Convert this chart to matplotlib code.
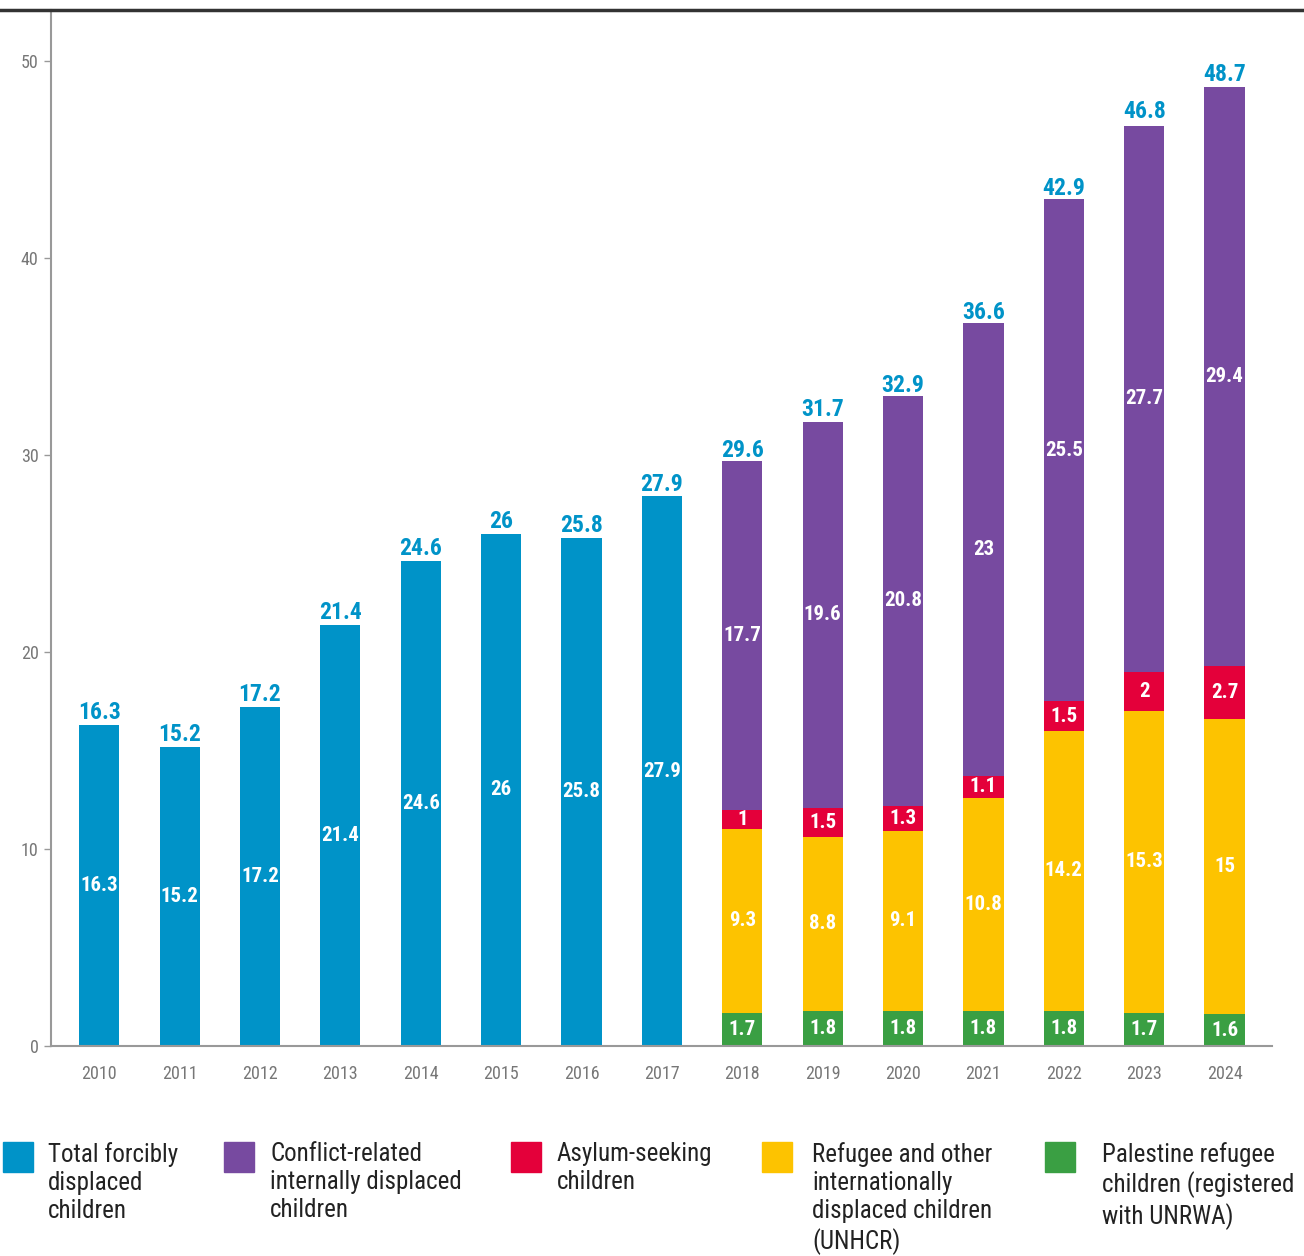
import matplotlib.pyplot as plt
import matplotlib.patches as mpatches
import matplotlib.lines as mlines
from matplotlib import font_manager

years = ["2010", "2011", "2012", "2013", "2014", "2015", "2016", "2017",
         "2018", "2019", "2020", "2021", "2022", "2023", "2024"]
totals = [16.3, 15.2, 17.2, 21.4, 24.6, 26, 25.8, 27.9,
          29.6, 31.7, 32.9, 36.6, 42.9, 46.8, 48.7]

# breakdown available from 2018 onwards
split_years = ["2018", "2019", "2020", "2021", "2022", "2023", "2024"]
palestine = [1.7, 1.8, 1.8, 1.8, 1.8, 1.7, 1.6]
refugee = [9.3, 8.8, 9.1, 10.8, 14.2, 15.3, 15]
asylum = [1, 1.5, 1.3, 1.1, 1.5, 2, 2.7]
idp = [17.7, 19.6, 20.8, 23, 25.5, 27.7, 29.4]

legend_labels = [
    "Total forcibly\ndisplaced\nchildren",
    "Conflict-related\ninternally displaced\nchildren",
    "Asylum-seeking\nchildren",
    "Refugee and other\ninternationally\ndisplaced children\n(UNHCR)",
    "Palestine refugee\nchildren (registered\nwith UNRWA)",
]

BLUE = "#0093C8"
PURPLE = "#774AA0"
RED = "#E4003A"
YELLOW = "#FDC300"
GREEN = "#3A9F43"

installed = {f.name for f in font_manager.fontManager.ttflist}
family = [f for f in ["Liberation Sans Narrow", "Roboto Condensed", "Roboto", "DejaVu Sans"] if f in installed]
plt.rcParams["font.family"] = family

fig = plt.figure(figsize=(13.04, 12.56), dpi=100)
ax = fig.add_axes([51 / 1304, 1 - 1046 / 1256, (1272 - 51) / 1304, (1046 - 10) / 1256])

x = list(range(len(years)))
w = 0.5
n_total_only = len(years) - len(split_years)

# blue total bars up to 2017
for i in range(n_total_only):
    ax.bar(x[i], totals[i], width=w, color=BLUE)
    ax.text(x[i], totals[i] / 2, f"{totals[i]:g}", ha="center", va="center",
            color="white", fontsize=15, fontweight="bold")

# stacked bars from 2018
for j, yr in enumerate(split_years):
    i = n_total_only + j
    bottom = 0
    for vals, col in [(palestine, GREEN), (refugee, YELLOW), (asylum, RED), (idp, PURPLE)]:
        v = vals[j]
        ax.bar(x[i], v, width=w, bottom=bottom, color=col)
        ax.text(x[i], bottom + v / 2, f"{v:g}", ha="center", va="center",
                color="white", fontsize=15, fontweight="bold")
        bottom += v

# totals above bars
for i, t in enumerate(totals):
    ax.text(x[i], t + 0.05, f"{t:g}", ha="center", va="bottom",
            color=BLUE, fontsize=17, fontweight="bold")

ax.set_xlim(-0.6, 14.59)
ax.set_ylim(0, 52.6)
ax.set_yticks([0, 10, 20, 30, 40, 50])
ax.set_xticks(x)
ax.set_xticklabels(years)
ax.tick_params(axis="x", length=0, pad=14, labelsize=13, labelcolor="#777777")
ax.tick_params(axis="y", length=5, width=1, color="#999999", pad=4,
               labelsize=13, labelcolor="#777777")
for s in ["top", "right"]:
    ax.spines[s].set_visible(False)
for s in ["left", "bottom"]:
    ax.spines[s].set_color("#999999")
    ax.spines[s].set_linewidth(1.5)

# rule across the top
fig.add_artist(mlines.Line2D([0, 1], [1 - 10 / 1256, 1 - 10 / 1256],
                             transform=fig.transFigure, color="#333333", linewidth=2.5))

# legend drawn as patches + text
legend_colors = [BLUE, PURPLE, RED, YELLOW, GREEN]
box_x = [3, 224, 511, 762, 1045]
text_x = [48, 270, 557, 812, 1102]
box_top = 1142
box_size = 30
for bx, tx, col, lab in zip(box_x, text_x, legend_colors, legend_labels):
    fig.add_artist(mpatches.Rectangle((bx / 1304, 1 - (box_top + box_size) / 1256),
                                      box_size / 1304, box_size / 1256,
                                      transform=fig.transFigure, color=col))
    fig.text(tx / 1304, 1 - 1142 / 1256, lab, ha="left", va="top",
             fontsize=18, color="#222222", linespacing=1.22)

fig.savefig("out.png", dpi=100)
